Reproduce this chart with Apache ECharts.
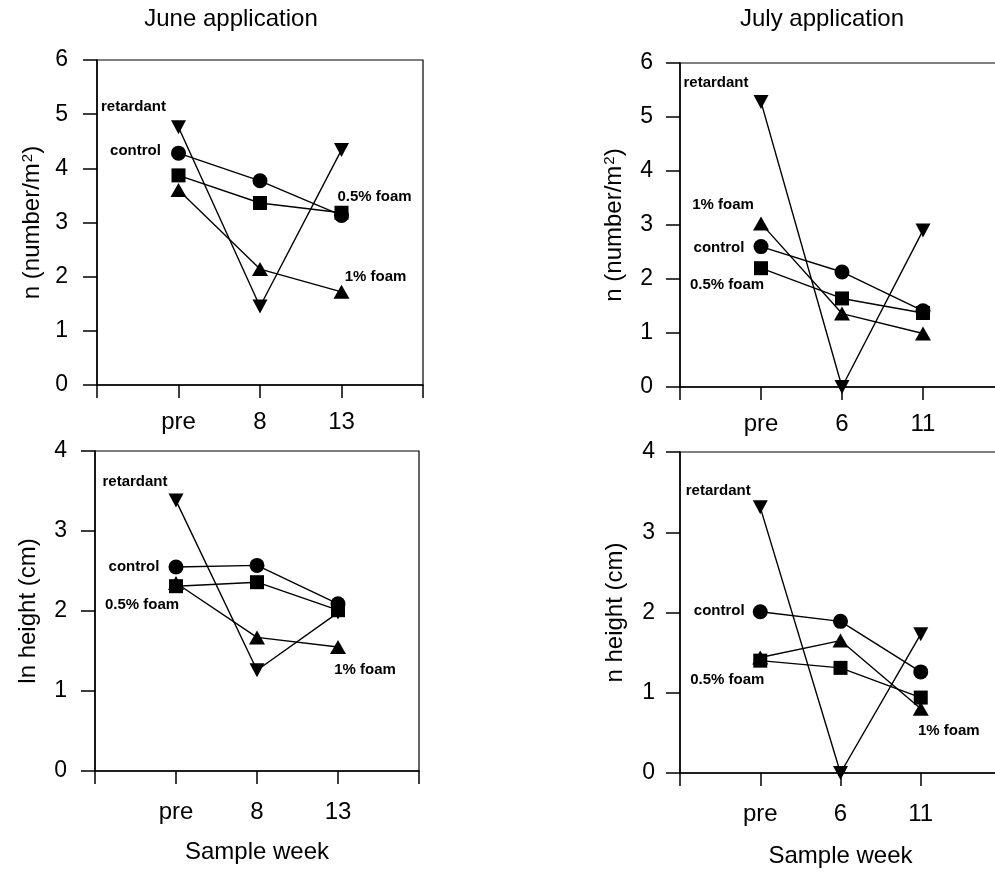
<!DOCTYPE html>
<html>
<head>
<meta charset="utf-8">
<script src="https://cdn.jsdelivr.net/npm/echarts@6/dist/echarts.min.js"></script>
<style>
  html, body { margin: 0; padding: 0; background: #fff; }
  #chart { width: 995px; height: 875px; }
</style>
</head>
<body>
<div id="chart"></div>
<script>
// ---------------- DATA ----------------
const juneWeeks = ['pre', '8', '13'];
const julyWeeks = ['pre', '6', '11'];
const seriesNames = ['retardant', 'control', '0.5% foam', '1% foam'];

// n (number/m2), June application
const juneNumRetardant = [4.76, 1.45, 4.34];
const juneNumControl   = [4.28, 3.77, 3.13];
const juneNumFoam05    = [3.87, 3.36, 3.18];
const juneNumFoam1     = [3.60, 2.14, 1.72];

// n (number/m2), July application
const julyNumRetardant = [5.28, 0.00, 2.90];
const julyNumControl   = [2.60, 2.13, 1.41];
const julyNumFoam05    = [2.20, 1.64, 1.37];
const julyNumFoam1     = [3.03, 1.36, 0.99];

// ln height (cm), June application
const juneHtRetardant = [3.38, 1.26, 1.98];
const juneHtControl   = [2.55, 2.57, 2.09];
const juneHtFoam05    = [2.31, 2.36, 2.01];
const juneHtFoam1     = [2.35, 1.67, 1.55];

// ln height (cm), July application
const julyHtRetardant = [3.31, 0.00, 1.73];
const julyHtControl   = [2.01, 1.89, 1.26];
const julyHtFoam05    = [1.40, 1.31, 0.94];
const julyHtFoam1     = [1.44, 1.65, 0.80];

const numTicks = [0, 1, 2, 3, 4, 5, 6];
const htTicks = [0, 1, 2, 3, 4];

// ---------------- STYLE / LAYOUT ----------------
const FONT = '"Liberation Sans", Arial, Helvetica, sans-serif';
const BLACK = '#000';

const symbolStyle = {
  'retardant': { symbol: 'triangle', symbolSize: [15, 14], symbolRotate: 180 },
  'control':   { symbol: 'circle', symbolSize: 15, symbolRotate: 0 },
  '0.5% foam': { symbol: 'rect', symbolSize: 14, symbolRotate: 0 },
  '1% foam':   { symbol: 'triangle', symbolSize: [16, 14], symbolRotate: 0 }
};
// draw order (later on top)
const drawOrder = ['retardant', '1% foam', '0.5% foam', 'control'];

const panels = [
  { grid: { left: 97, top: 60, width: 326, height: 325 },
    weeks: juneWeeks,
    values: { 'retardant': juneNumRetardant, 'control': juneNumControl, '0.5% foam': juneNumFoam05, '1% foam': juneNumFoam1 },
    ticks: numTicks, yName: 'n (number/m{sup|2})', yNameGap: 52, yLabelMargin: 29, xLabelMargin: 25, xName: '', xNameGap: 0,
    labels: [
      { name: 'retardant', idx: 0, dx: -45, dy: -20 },
      { name: 'control',   idx: 0, dx: -43, dy: -2 },
      { name: '0.5% foam', idx: 2, dx: 33,  dy: -16 },
      { name: '1% foam',   idx: 2, dx: 34,  dy: -15 }
    ] },
  { grid: { left: 680, top: 63, width: 324, height: 324 },
    weeks: julyWeeks,
    values: { 'retardant': julyNumRetardant, 'control': julyNumControl, '0.5% foam': julyNumFoam05, '1% foam': julyNumFoam1 },
    ticks: numTicks, yName: 'n (number/m{sup|2})', yNameGap: 53, yLabelMargin: 27, xLabelMargin: 25, xName: '', xNameGap: 0,
    labels: [
      { name: 'retardant', idx: 0, dx: -45, dy: -19 },
      { name: '1% foam',   idx: 0, dx: -38, dy: -19 },
      { name: 'control',   idx: 0, dx: -42, dy: 1 },
      { name: '0.5% foam', idx: 0, dx: -34, dy: 17 }
    ] },
  { grid: { left: 95, top: 451, width: 324, height: 320 },
    weeks: juneWeeks,
    values: { 'retardant': juneHtRetardant, 'control': juneHtControl, '0.5% foam': juneHtFoam05, '1% foam': juneHtFoam1 },
    ticks: htTicks, yName: 'ln height (cm)', yNameGap: 55, yLabelMargin: 28, xLabelMargin: 29, xName: 'Sample week', xNameGap: 69,
    labels: [
      { name: 'retardant', idx: 0, dx: -41, dy: -19 },
      { name: 'control',   idx: 0, dx: -42, dy: 0 },
      { name: '0.5% foam', idx: 0, dx: -34, dy: 19 },
      { name: '1% foam',   idx: 2, dx: 27,  dy: 23 }
    ] },
  { grid: { left: 680, top: 452, width: 321, height: 321 },
    weeks: julyWeeks,
    values: { 'retardant': julyHtRetardant, 'control': julyHtControl, '0.5% foam': julyHtFoam05, '1% foam': julyHtFoam1 },
    ticks: htTicks, yName: 'n height (cm)', yNameGap: 53, yLabelMargin: 25, xLabelMargin: 29, xName: 'Sample week', xNameGap: 71,
    labels: [
      { name: 'retardant', idx: 0, dx: -42, dy: -17 },
      { name: 'control',   idx: 0, dx: -41, dy: -1 },
      { name: '0.5% foam', idx: 0, dx: -33, dy: 19 },
      { name: '1% foam',   idx: 2, dx: 28,  dy: 22 }
    ] }
];

// ---------------- BUILD OPTION ----------------
const grids = [], xAxes = [], yAxes = [], series = [];

panels.forEach((p, gi) => {
  grids.push(Object.assign({
    show: true, borderColor: BLACK, borderWidth: 1.2, backgroundColor: 'transparent',
    containLabel: false, outerBoundsMode: 'none'
  }, p.grid));

  xAxes.push({
    type: 'category', gridIndex: gi,
    data: [''].concat(p.weeks, ['']),
    boundaryGap: false,
    axisLine: { show: true, onZero: false, lineStyle: { color: BLACK, width: 1.5 } },
    axisTick: { show: true, inside: false, length: 13, interval: 0, lineStyle: { color: BLACK, width: 1.5 } },
    axisLabel: { show: true, interval: 0, margin: p.xLabelMargin, color: BLACK, fontSize: 24, fontFamily: FONT },
    splitLine: { show: false },
    name: p.xName, nameLocation: 'middle', nameGap: p.xNameGap,
    nameTextStyle: { color: BLACK, fontSize: 24, fontFamily: FONT }
  });

  yAxes.push({
    type: 'value', gridIndex: gi,
    min: p.ticks[0], max: p.ticks[p.ticks.length - 1], interval: 1,
    axisLine: { show: true, onZero: false, lineStyle: { color: BLACK, width: 1.5 } },
    axisTick: { show: true, inside: false, length: 14, lineStyle: { color: BLACK, width: 1.5 } },
    axisLabel: { show: true, margin: p.yLabelMargin, color: BLACK, fontSize: 23, fontFamily: FONT },
    splitLine: { show: false },
    name: p.yName, nameLocation: 'middle', nameGap: p.yNameGap,
    nameTextStyle: {
      color: BLACK, fontSize: 24, fontFamily: FONT,
      rich: { sup: { fontSize: 15, fontFamily: FONT, color: BLACK, verticalAlign: 'top', padding: [0, 0, 10, 1] } }
    }
  });

  drawOrder.forEach(name => {
    const vals = p.values[name];
    const data = [null].concat(vals.map((v, i) => {
      const spec = p.labels.find(l => l.name === name && l.idx === i);
      if (!spec) return v;
      return {
        value: v,
        label: {
          show: true, formatter: name, position: 'inside',
          offset: [spec.dx, spec.dy], align: 'center', verticalAlign: 'middle',
          color: BLACK, fontSize: 15, fontWeight: 'bold', fontFamily: FONT
        }
      };
    }), [null]);
    const s = symbolStyle[name];
    series.push({
      type: 'line', name: name,
      xAxisIndex: gi, yAxisIndex: gi,
      data: data,
      symbol: s.symbol, symbolSize: s.symbolSize, symbolRotate: s.symbolRotate,
      showSymbol: true, showAllSymbol: true,
      connectNulls: false,
      lineStyle: { color: BLACK, width: 1.4 },
      itemStyle: { color: BLACK, borderColor: BLACK, borderWidth: 0 },
      label: { show: false },
      emphasis: { disabled: true },
      animation: false,
      clip: false
    });
  });
});

const option = {
  backgroundColor: '#fff',
  animation: false,
  grid: grids,
  xAxis: xAxes,
  yAxis: yAxes,
  series: series,
  graphic: [
    { type: 'text', x: 231, y: 19, style: { text: 'June application', align: 'center', verticalAlign: 'middle', fill: BLACK, font: '24px ' + FONT } },
    { type: 'text', x: 822, y: 19, style: { text: 'July application', align: 'center', verticalAlign: 'middle', fill: BLACK, font: '24px ' + FONT } }
  ]
};

const chart = echarts.init(document.getElementById('chart'), null, { renderer: 'canvas' });
chart.setOption(option);
</script>
</body>
</html>
